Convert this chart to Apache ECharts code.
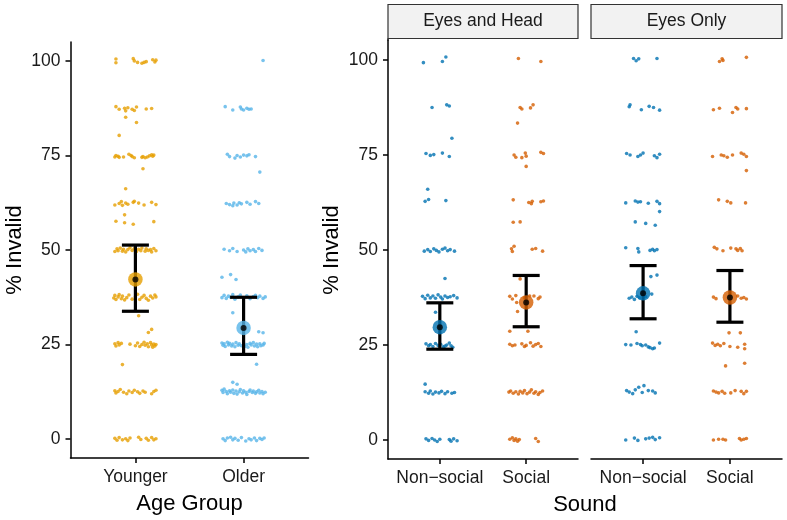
<!DOCTYPE html>
<html>
<head>
<meta charset="utf-8">
<script src="https://cdn.jsdelivr.net/npm/echarts@6/dist/echarts.min.js"></script>
<style>html,body{margin:0;padding:0;background:#fff}#c{width:787px;height:520px}</style>
</head>
<body>
<div id="c"></div>
<script>
// ---------- DATA ----------
const ageGroups = ['Younger', 'Older'];
const sounds = ['Non\u2212social', 'Social'];
const facets = ['Eyes and Head', 'Eyes Only'];
const yTicks = [0, 25, 50, 75, 100];

// jittered observations: [horizontal jitter (category units), % invalid]
const younger = [
 [-0.18,99.5],[-0.18,100.5],[-0.02,100.6],[-0.01,100.0],[0.02,99.6],[0.06,99.4],[0.08,99.6],[0.10,99.8],[0.16,100.3],[0.18,99.7],[0.19,100.2],
 [-0.18,87.9],[-0.15,87.2],[-0.10,87.5],[-0.09,86.8],[-0.07,87.6],[-0.03,87.2],[-0.01,86.9],[0.01,87.8],[0.10,87.3],[0.15,87.4],
 [-0.09,85.1],[0.01,83.7],[-0.15,80.3],
 [-0.19,74.6],[-0.18,75.0],[-0.16,74.8],[-0.15,74.5],[-0.11,74.6],[-0.06,75.3],[-0.04,75.0],[-0.03,74.7],[-0.01,74.4],[0.06,74.5],[0.07,74.7],[0.09,74.4],[0.11,74.6],[0.13,74.9],[0.15,75.2],[0.16,74.8],[0.17,75.1],
 [0.07,71.5],[-0.09,66.2],
 [-0.19,61.9],[-0.15,62.3],[-0.13,62.8],[-0.12,61.8],[-0.09,62.4],[-0.07,62.1],[-0.02,62.6],[-0.01,62.9],[0.03,62.4],[0.08,61.9],[0.15,62.6],[0.19,62.0],
 [-0.10,59.3],[-0.18,57.6],[-0.10,57.2],[-0.02,56.8],[0.17,57.5],
 [-0.19,49.6],[-0.17,50.3],[-0.16,49.8],[-0.14,50.5],[-0.12,49.7],[-0.11,50.2],[-0.09,49.5],[-0.07,50.1],[-0.05,50.6],[-0.03,49.9],[-0.01,50.4],[0.01,49.6],[0.03,50.2],[0.05,49.8],[0.06,50.5],[0.09,49.7],[0.10,50.3],[0.12,49.9],[0.14,50.1],[0.15,49.5],[0.17,50.4],[0.19,49.8],
 [-0.20,37.3],[-0.19,38.0],[-0.18,36.9],[-0.16,37.6],[-0.15,38.2],[-0.13,37.1],[-0.12,37.8],[-0.10,36.8],[-0.08,37.4],[-0.06,38.1],[-0.03,37.0],[0.00,37.6],[0.02,38.3],[0.04,36.9],[0.06,37.5],[0.08,38.0],[0.10,37.2],[0.12,36.7],[0.14,37.8],[0.16,37.3],[0.18,38.1],[0.19,37.6],
 [0.03,32.6],[0.15,29.0],[0.12,28.2],
 [-0.19,25.2],[-0.18,24.6],[-0.16,25.5],[-0.15,24.9],[-0.13,25.3],[-0.05,25.1],[0.00,24.7],[0.02,25.4],[0.04,24.5],[0.06,25.0],[0.08,25.6],[0.09,24.8],[0.11,25.2],[0.12,24.4],[0.14,25.5],[0.15,24.9],[0.16,24.3],[0.17,25.1],[0.18,24.6],[0.19,25.0],
 [-0.12,19.7],
 [-0.19,12.8],[-0.18,12.2],[-0.16,12.6],[-0.14,13.1],[-0.11,12.4],[-0.08,12.0],[-0.06,12.7],[-0.03,12.3],[-0.01,12.9],[0.02,12.5],[0.04,12.1],[0.07,12.7],[0.09,12.4],[0.15,12.0],[0.17,12.6],[0.19,12.9],
 [-0.19,0.2],[-0.17,-0.3],[-0.15,0.4],[-0.12,-0.2],[-0.09,0.1],[-0.07,-0.4],[-0.05,0.3],[0.03,0.5],[0.05,-0.1],[0.10,0.2],[0.12,-0.3],[0.15,0.4],[0.17,-0.2],[0.19,0.1]
];
const older = [
 [0.18,100.1],
 [-0.17,87.9],[-0.10,87.0],[-0.03,87.8],[-0.02,87.3],[0.00,87.0],[0.03,87.5],[0.05,87.2],[0.07,87.3],
 [-0.15,75.3],[-0.13,74.7],[-0.08,74.3],[-0.06,75.0],[-0.03,74.6],[0.00,75.1],[0.03,74.9],[0.05,75.2],[0.11,74.7],[0.15,70.6],
 [-0.16,62.3],[-0.13,62.0],[-0.10,61.7],[-0.09,62.4],[-0.06,61.9],[-0.04,62.5],[-0.02,62.2],[0.03,62.6],[0.06,62.1],[0.11,62.8],[0.14,62.3],
 [-0.18,50.2],[-0.13,49.8],[-0.10,50.4],[-0.06,49.6],[0.00,50.0],[0.02,49.5],[0.04,50.3],[0.06,49.8],[0.09,50.1],[0.11,49.6],[0.14,50.4],[0.17,49.9],
 [-0.20,42.8],[-0.12,43.5],[-0.07,42.2],
 [-0.20,37.4],[-0.18,38.0],[-0.16,37.2],[-0.14,37.8],[-0.12,37.5],[-0.10,38.2],[-0.08,37.0],[-0.05,37.6],[-0.03,38.1],[0.00,37.3],[0.03,37.9],[0.06,37.1],[0.09,37.7],[0.11,38.0],[0.13,37.4],[0.15,37.8],[0.18,37.2],[0.20,37.6],
 [-0.10,33.4],[0.14,28.4],[0.18,28.1],
 [-0.20,25.4],[-0.19,24.8],[-0.18,25.2],[-0.17,24.5],[-0.15,25.6],[-0.14,24.9],[-0.13,25.3],[-0.11,24.6],[-0.10,25.1],[-0.08,24.4],[-0.07,25.5],[-0.05,24.8],[-0.04,25.2],[-0.02,24.7],[0.00,25.4],[0.01,24.5],[0.03,25.0],[0.04,24.3],[0.06,25.3],[0.07,24.9],[0.09,25.5],[0.10,24.6],[0.12,25.1],[0.13,24.4],[0.15,25.2],[0.16,24.7],[0.18,24.9],[0.19,25.3],
 [0.12,19.8],
 [-0.20,12.9],[-0.19,12.3],[-0.18,13.2],[-0.16,12.6],[-0.15,12.0],[-0.13,12.8],[-0.12,12.4],[-0.10,13.0],[-0.09,12.1],[-0.07,12.7],[-0.06,11.9],[-0.04,12.5],[-0.03,13.1],[-0.01,12.2],[0.00,12.8],[0.02,12.4],[0.03,11.8],[0.05,12.6],[0.06,13.0],[0.08,12.3],[0.09,12.7],[0.11,12.1],[0.12,12.5],[0.14,12.9],[0.15,12.2],[0.17,12.6],[0.18,12.0],[0.20,12.4],
 [-0.10,15.0],[-0.06,14.5],
 [-0.19,0.1],[-0.17,-0.4],[-0.15,0.3],[-0.12,0.5],[-0.10,-0.2],[-0.08,0.2],[-0.05,-0.3],[-0.02,0.4],[0.02,-0.5],[0.05,0.1],[0.07,-0.2],[0.10,0.3],[0.12,-0.4],[0.15,0.2],[0.17,-0.1],[0.19,0.3]
];
const ehNonSocial = [
 [-0.19,99.3],[0.03,99.6],[0.07,100.8],
 [-0.09,87.5],[0.08,88.2],[0.11,87.9],[0.14,79.4],
 [-0.16,75.4],[-0.11,74.9],[-0.07,75.1],[0.03,75.5],[0.11,74.6],
 [-0.14,66.0],[-0.17,62.8],[-0.13,63.3],[0.07,63.0],
 [-0.18,49.7],[-0.14,50.1],[-0.11,49.6],[-0.07,50.3],[-0.04,49.9],[-0.01,49.5],[0.03,50.2],[0.06,50.5],[0.09,49.8],[0.12,50.1],[0.17,49.7],
 [0.06,42.5],
 [-0.20,37.8],[-0.17,37.2],[-0.14,38.1],[-0.11,37.4],[-0.08,37.9],[-0.05,37.3],[-0.02,38.2],[0.01,37.6],[0.03,37.1],[0.06,37.9],[0.09,37.5],[0.12,37.7],[0.16,38.0],[0.20,37.4],
 [-0.05,33.6],
 [-0.16,25.3],[-0.13,24.8],[-0.11,25.1],[-0.08,24.6],[-0.05,25.4],[-0.02,24.9],[0.01,25.2],[0.04,24.5],[0.06,24.7],[0.08,25.0],[0.11,25.5],[0.13,24.8],[0.15,24.4],
 [-0.17,14.7],[-0.17,12.7],[-0.13,12.3],[-0.11,12.9],[-0.08,12.1],[-0.05,12.6],[-0.01,12.4],[0.02,12.8],[0.06,12.2],[0.09,12.7],[0.14,12.3],[0.17,12.5],
 [-0.16,0.3],[-0.13,-0.1],[-0.09,0.4],[-0.06,0.0],[-0.03,-0.4],[0.00,0.2],[0.11,0.1],[0.13,-0.3],[0.16,0.3],[0.20,-0.2]
];
const ehSocial = [
 [-0.09,100.4],[0.17,99.6],
 [-0.07,87.5],[-0.05,87.1],[0.05,87.4],[0.08,88.2],[-0.10,83.4],
 [-0.14,75.0],[-0.12,74.4],[-0.05,74.3],[-0.01,75.5],[0.00,74.7],[0.17,75.7],[0.20,75.4],[0.00,72.0],
 [-0.15,63.2],[0.03,62.5],[0.06,62.2],[0.07,62.8],[0.17,62.7],[0.20,62.9],
 [-0.15,57.3],[-0.07,57.4],
 [-0.17,50.3],[-0.16,49.6],[-0.14,51.0],[0.07,50.2],[0.11,50.4],[0.19,49.7],
 [-0.07,42.4],
 [-0.19,37.8],[-0.16,37.1],[-0.12,38.0],[-0.02,37.4],[0.04,37.9],[0.09,37.9],[0.14,37.2],[0.16,37.6],
 [-0.11,36.2],[-0.10,33.8],[-0.19,28.6],[0.02,28.6],
 [-0.19,25.2],[-0.16,24.8],[-0.13,25.0],[-0.05,25.3],[-0.02,24.6],[0.00,24.9],[0.05,25.6],[0.08,24.7],[0.11,25.1],[0.14,25.4],[0.17,24.6],
 [-0.20,12.6],[-0.18,12.9],[-0.15,12.3],[-0.12,12.7],[-0.09,12.1],[-0.07,12.8],[-0.04,12.4],[-0.02,13.0],[0.01,12.2],[0.04,12.6],[0.06,13.2],[0.09,12.3],[0.11,12.7],[0.14,12.0],[0.16,12.5],[0.19,12.9],
 [-0.19,0.2],[-0.16,0.6],[-0.14,-0.1],[-0.12,0.3],[-0.10,-0.3],[-0.08,0.1],[0.11,0.4],[0.14,-0.4]
];
const eoNonSocial = [
 [-0.11,100.4],[-0.08,99.8],[-0.05,100.3],[0.16,100.4],
 [-0.16,87.7],[-0.15,88.2],[-0.02,86.9],[0.07,87.8],[0.12,87.5],[0.19,86.8],
 [-0.19,75.4],[-0.15,75.0],[-0.06,74.6],[-0.03,75.0],[0.00,75.5],[0.13,74.8],[0.16,74.3],[0.19,75.2],
 [-0.20,62.4],[-0.09,62.9],[-0.06,62.6],[-0.03,62.7],[0.06,62.3],[0.16,62.8],[0.19,62.2],[0.19,60.1],
 [-0.09,57.4],[0.03,57.0],[0.14,56.5],
 [-0.20,50.6],[-0.06,50.4],[-0.05,49.5],[0.08,49.9],[0.11,50.2],[0.13,49.8],[0.16,50.1],
 [0.09,43.0],[0.16,43.4],
 [-0.16,37.3],[-0.13,37.6],[-0.10,37.0],[-0.07,37.8],[-0.04,37.4],[-0.01,38.2],[0.03,37.7],[0.10,38.4],
 [-0.08,28.5],
 [-0.20,25.1],[-0.14,25.0],[-0.07,25.4],[-0.03,25.1],[-0.01,24.8],[0.03,25.0],[0.06,24.5],[0.08,24.3],[0.11,24.0],[0.13,24.2],[0.19,25.5],
 [-0.19,13.0],[-0.16,12.6],[-0.12,12.2],[-0.09,13.2],[-0.05,13.9],[-0.01,12.5],[0.01,14.3],[0.06,13.0],[0.11,12.9],[0.14,12.4],
 [-0.20,0.0],[-0.10,0.5],[-0.06,-0.1],[0.03,0.3],[0.07,0.5],[0.11,0.7],[0.14,0.1],[0.19,0.6]
];
const eoSocial = [
 [-0.12,99.6],[-0.09,100.3],[-0.08,99.9],[0.19,100.7],
 [-0.19,86.9],[-0.12,87.3],[0.03,86.2],[0.07,87.5],[0.09,87.1],[0.19,87.2],
 [-0.20,74.6],[-0.10,75.0],[-0.07,74.8],[-0.03,74.4],[0.03,75.0],[0.13,75.5],[0.16,75.2],[0.19,74.6],[0.19,70.9],
 [-0.13,63.2],[-0.03,62.8],[0.01,62.4],[0.18,62.4],
 [-0.18,50.7],[-0.15,50.3],[-0.08,49.8],[0.01,50.5],[0.07,50.3],[0.09,49.9],[0.12,50.4],[0.14,49.8],
 [-0.19,37.6],[-0.16,37.2],[0.09,37.9],[0.13,37.3],[0.16,37.5],[0.19,37.1],
 [-0.01,28.2],[0.12,28.2],
 [-0.20,25.5],[-0.17,24.9],[-0.14,25.2],[-0.11,24.8],[-0.07,25.4],[0.00,24.6],[0.09,24.4],[0.17,25.2],[0.17,24.0],
 [-0.05,19.5],[0.17,20.2],
 [-0.19,12.9],[-0.16,12.6],[-0.13,12.4],[-0.09,12.8],[-0.06,12.3],[0.01,12.4],[0.06,13.0],[0.13,12.8],[0.16,12.2],[0.19,12.8],
 [-0.19,0.0],[-0.13,0.2],[-0.08,0.2],[-0.05,0.0],[0.11,0.4],[0.13,0.0],[0.16,0.2],[0.19,0.4]
];

// summary: mean and interval per category
const ageMean = [42.2, 29.4];
const ageLow  = [33.8, 22.4];
const ageHigh = [51.3, 37.5];
const ehMean = [29.7, 36.2];
const ehLow  = [23.9, 29.8];
const ehHigh = [36.1, 43.3];
const eoMean = [38.6, 37.5];
const eoLow  = [31.9, 31.0];
const eoHigh = [45.9, 44.6];

// ---------- STYLE / LAYOUT ----------
const FONT = '"Liberation Sans", Arial, Helvetica, sans-serif';
const ageColors = ['#E69F00', '#56B4E9'];
const soundColors = ['#0072B2', '#D55E00'];
const TXT = '#1a1a1a';
const grids = [
  {left: 70.5, top: 42, width: 238, height: 418},
  {left: 388, top: 41, width: 190, height: 418},
  {left: 591, top: 41, width: 191, height: 418}
];
const stripTop = 4.5, stripH = 34;

const chart = echarts.init(document.getElementById('c'), null, {renderer: 'canvas'});

function jit(arr, cat) { return arr.map(p => [cat + p[0], p[1]]); }

function xAxisDef(gi, labels, name) {
  return {
    gridIndex: gi, type: 'value', min: 0.4, max: 2.6,
    axisLine: {show: true, onZero: false, lineStyle: {color: '#000', width: 1.5}},
    axisTick: {show: true, customValues: [1, 2], length: 5, lineStyle: {color: '#000', width: 1.5}},
    axisLabel: {show: true, customValues: [1, 2], margin: 10, fontSize: 17.5, fontFamily: FONT, color: TXT,
      formatter: v => labels[Math.round(v) - 1]},
    splitLine: {show: false},
    name: name || '', nameLocation: 'middle', nameGap: 35,
    nameTextStyle: {fontSize: 22, fontFamily: FONT, color: '#000'}
  };
}
function yAxisDef(gi, show) {
  return {
    gridIndex: gi, type: 'value', min: -5, max: 105, show: show,
    axisLine: {show: true, onZero: false, lineStyle: {color: '#000', width: 1.5}},
    axisTick: {show: true, customValues: yTicks, length: 5, lineStyle: {color: '#000', width: 1.5}},
    axisLabel: {show: true, customValues: yTicks, margin: 10, fontSize: 17.5, fontFamily: FONT, color: TXT},
    splitLine: {show: false},
    name: '% Invalid', nameLocation: 'middle', nameGap: 45, nameRotate: 90,
    nameTextStyle: {fontSize: 22, fontFamily: FONT, color: '#000'}
  };
}

function pointSeries(gi, arr, cat, color) {
  return {type: 'scatter', xAxisIndex: gi, yAxisIndex: gi, data: jit(arr, cat),
    symbol: 'circle', symbolSize: 3.6, itemStyle: {color: color}, silent: true, z: 2, animation: false};
}
function errSeries(gi, lows, highs) {
  return {
    type: 'custom', xAxisIndex: gi, yAxisIndex: gi, z: 3, animation: false, silent: true,
    data: lows.map((l, i) => [i + 1, l, highs[i]]),
    encode: {x: 0, y: [1, 2]},
    renderItem: (params, api) => {
      const x = api.value(0);
      const a = api.coord([x, api.value(1)]);
      const b = api.coord([x, api.value(2)]);
      const w = 13.5;
      const st = {stroke: '#000', lineWidth: 3.2, lineCap: 'butt'};
      return {type: 'group', children: [
        {type: 'line', shape: {x1: a[0], y1: a[1], x2: b[0], y2: b[1]}, style: st},
        {type: 'line', shape: {x1: a[0] - w, y1: a[1], x2: a[0] + w, y2: a[1]}, style: st},
        {type: 'line', shape: {x1: b[0] - w, y1: b[1], x2: b[0] + w, y2: b[1]}, style: st}
      ]};
    }
  };
}
function meanSeries(gi, means, colors) {
  return [
    {type: 'scatter', xAxisIndex: gi, yAxisIndex: gi, z: 4, animation: false, silent: true,
      symbol: 'circle', symbolSize: 14.5,
      data: means.map((m, i) => ({value: [i + 1, m], itemStyle: {color: colors[i]}}))},
    {type: 'scatter', xAxisIndex: gi, yAxisIndex: gi, z: 5, animation: false, silent: true,
      symbol: 'circle', symbolSize: 6, itemStyle: {color: '#000'},
      data: means.map((m, i) => [i + 1, m])}
  ];
}

const series = [
  pointSeries(0, younger, 1, ageColors[0]),
  pointSeries(0, older, 2, ageColors[1]),
  errSeries(0, ageLow, ageHigh),
  ...meanSeries(0, ageMean, ageColors),
  pointSeries(1, ehNonSocial, 1, soundColors[0]),
  pointSeries(1, ehSocial, 2, soundColors[1]),
  errSeries(1, ehLow, ehHigh),
  ...meanSeries(1, ehMean, soundColors),
  pointSeries(2, eoNonSocial, 1, soundColors[0]),
  pointSeries(2, eoSocial, 2, soundColors[1]),
  errSeries(2, eoLow, eoHigh),
  ...meanSeries(2, eoMean, soundColors)
];

const graphic = [];
[1, 2].forEach((gi, k) => {
  const g = grids[gi];
  graphic.push({type: 'rect', z: 10, shape: {x: g.left, y: stripTop, width: g.width, height: stripH},
    style: {fill: '#F2F2F2', stroke: '#333', lineWidth: 1.2}});
  graphic.push({type: 'text', z: 11, x: g.left + g.width / 2, y: stripTop + stripH / 2,
    style: {text: facets[k], fontSize: 17.5, fontFamily: FONT, fill: TXT, align: 'center', verticalAlign: 'middle'}});
});
// connect the right panel's y-axis line up to its strip
graphic.push({type: 'line', z: 9, shape: {x1: grids[1].left, y1: stripTop + stripH, x2: grids[1].left, y2: grids[1].top},
  style: {stroke: '#000', lineWidth: 1.5}});
graphic.push({type: 'text', z: 11,
  x: (grids[1].left + grids[2].left + grids[2].width) / 2, y: grids[1].top + grids[1].height + 35,
  style: {text: 'Sound', fontSize: 22, fontFamily: FONT, fill: '#000', align: 'center', verticalAlign: 'top'}});

chart.setOption({
  animation: false,
  backgroundColor: '#fff',
  grid: grids.map(g => Object.assign({containLabel: false}, g)),
  xAxis: [xAxisDef(0, ageGroups, 'Age Group'), xAxisDef(1, sounds), xAxisDef(2, sounds)],
  yAxis: [yAxisDef(0, true), yAxisDef(1, true), yAxisDef(2, false)],
  series: series,
  graphic: graphic
});
</script>
</body>
</html>
